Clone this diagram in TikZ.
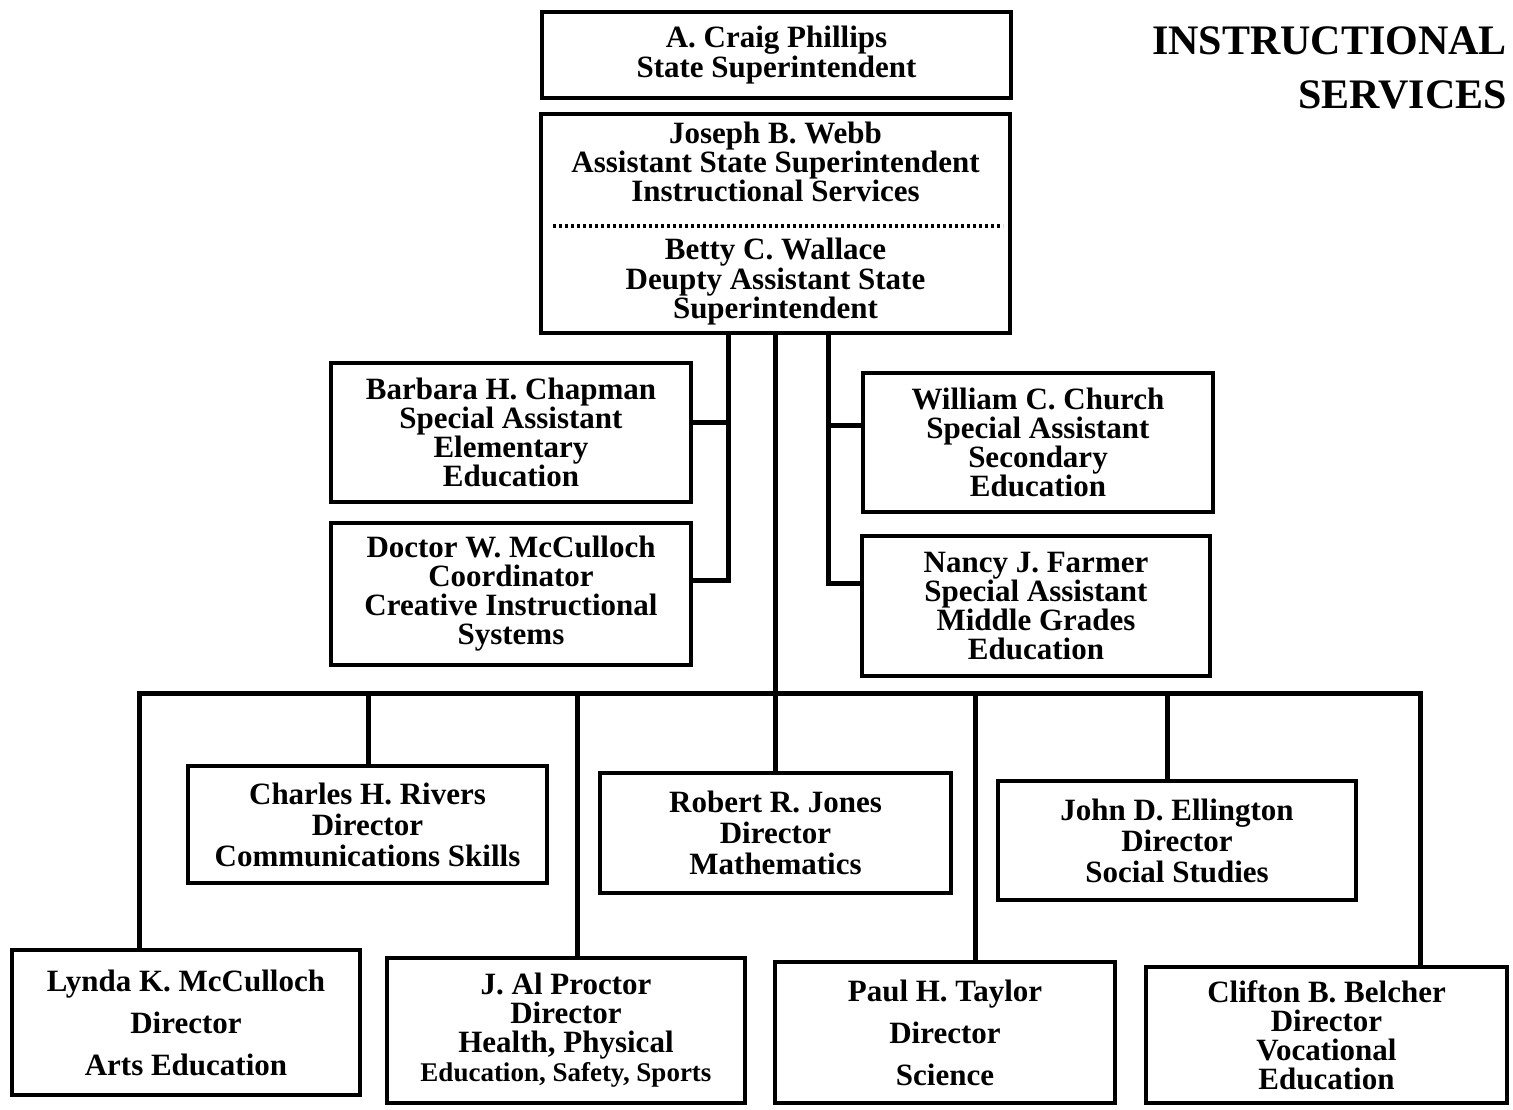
\documentclass[tikz,border=0pt]{standalone}
\usepackage{fontspec}
\setmainfont{Liberation Serif}
\begin{document}
\begin{tikzpicture}[x=1pt,y=-1pt]
\tikzset{
  box/.style={draw, line width=3.5pt, inner sep=0pt, align=center,
    font=\fontsize{31}{29}\selectfont\bfseries},
  lowbox/.style={box, font=\fontsize{31}{31}\selectfont\bfseries},
  widebox/.style={box, font=\fontsize{31}{42}\selectfont\bfseries},
  conn/.style={line width=5pt, line cap=rect, line join=miter},
  dotline/.style={line width=3.5pt, dash pattern=on 2.5pt off 3.5pt},
  titletext/.style={inner sep=0pt, align=right, font=\fontsize{42}{54}\selectfont\bfseries}
}
\useasboundingbox (0,0) rectangle (1513,1109);

% title
\node[titletext, anchor=north east] (title) at (1507,26) {INSTRUCTIONAL\\SERVICES};

% top boxes
\node[box, minimum width=469pt, minimum height=86pt, font=\fontsize{31}{28}\selectfont\bfseries] (phil) at (776.5,55)
  {A. Craig Phillips\\State Superintendent};
\node[box, minimum width=469pt, minimum height=219pt, font=\fontsize{31}{28}\selectfont\bfseries] (webb) at (775.5,223.5)
  {Joseph B. Webb\\Assistant State Superintendent\\Instructional Services\\[30pt]Betty C. Wallace\\Deupty Assistant State\\Superintendent};
\coordinate (dl) at (553,226);
\coordinate (dr) at (1003,226);
\draw[dotline] (dl) -- (dr);

% special assistants
\node[box, minimum width=360pt, minimum height=139pt] (chap) at (511,432.5)
  {Barbara H. Chapman\\Special Assistant\\Elementary\\Education};
\node[box, minimum width=360pt, minimum height=142pt] (doc) at (511,594)
  {Doctor W. McCulloch\\Coordinator\\Creative Instructional\\Systems};
\node[box, minimum width=350pt, minimum height=139pt] (church) at (1038,442.5)
  {William C. Church\\Special Assistant\\Secondary\\Education};
\node[box, minimum width=348pt, minimum height=140pt] (farmer) at (1036,606)
  {Nancy J. Farmer\\Special Assistant\\Middle Grades\\Education};

% directors, upper row
\node[lowbox, minimum width=359pt, minimum height=117pt] (rivers) at (367.5,824.5)
  {Charles H. Rivers\\Director\\Communications Skills};
\node[lowbox, minimum width=351pt, minimum height=120pt] (jones) at (775.5,833)
  {Robert R. Jones\\Director\\Mathematics};
\node[lowbox, minimum width=358pt, minimum height=119pt] (elling) at (1177,840.5)
  {John D. Ellington\\Director\\Social Studies};

% directors, lower row
\node[widebox, minimum width=348pt, minimum height=145pt] (lynda) at (186,1022.5)
  {Lynda K. McCulloch\\Director\\Arts Education};
\node[box, minimum width=358pt, minimum height=145pt] (proctor) at (566,1030.5)
  {J. Al Proctor\\Director\\Health, Physical\\{\fontsize{27}{29}\selectfont Education, Safety, Sports}};
\node[widebox, minimum width=340pt, minimum height=141pt] (taylor) at (945,1032.5)
  {Paul H. Taylor\\Director\\Science};
\node[box, minimum width=361pt, minimum height=136pt] (belcher) at (1326.5,1035)
  {Clifton B. Belcher\\Director\\Vocational\\Education};

% connectors to special assistants
\coordinate (cL1) at (728,422);
\coordinate (cL2) at (728,580);
\coordinate (cR1) at (828,425);
\coordinate (cR2) at (828,583);
\draw[conn] (webb.south -| cL2) -- (cL2) -- (doc.east |- cL2);
\draw[conn] (cL1) -- (chap.east |- cL1);
\draw[conn] (webb.south -| cR2) -- (cR2) -- (farmer.west |- cR2);
\draw[conn] (cR1) -- (church.west |- cR1);

% main trunk
\draw[conn] (webb.south) -- (jones.north);

% bus
\coordinate (bL) at (139,693);
\coordinate (bR) at (1420,693);
\draw[conn] (lynda.north -| bL) -- (bL) -- (bR) -- (belcher.north -| bR);
\coordinate (dR) at (368,693);
\coordinate (dP) at (577,693);
\coordinate (dT) at (975,693);
\coordinate (dE) at (1167,693);
\draw[conn] (dR) -- (rivers.north -| dR);
\draw[conn] (dP) -- (proctor.north -| dP);
\draw[conn] (dT) -- (taylor.north -| dT);
\draw[conn] (dE) -- (elling.north -| dE);
\end{tikzpicture}
\end{document}
